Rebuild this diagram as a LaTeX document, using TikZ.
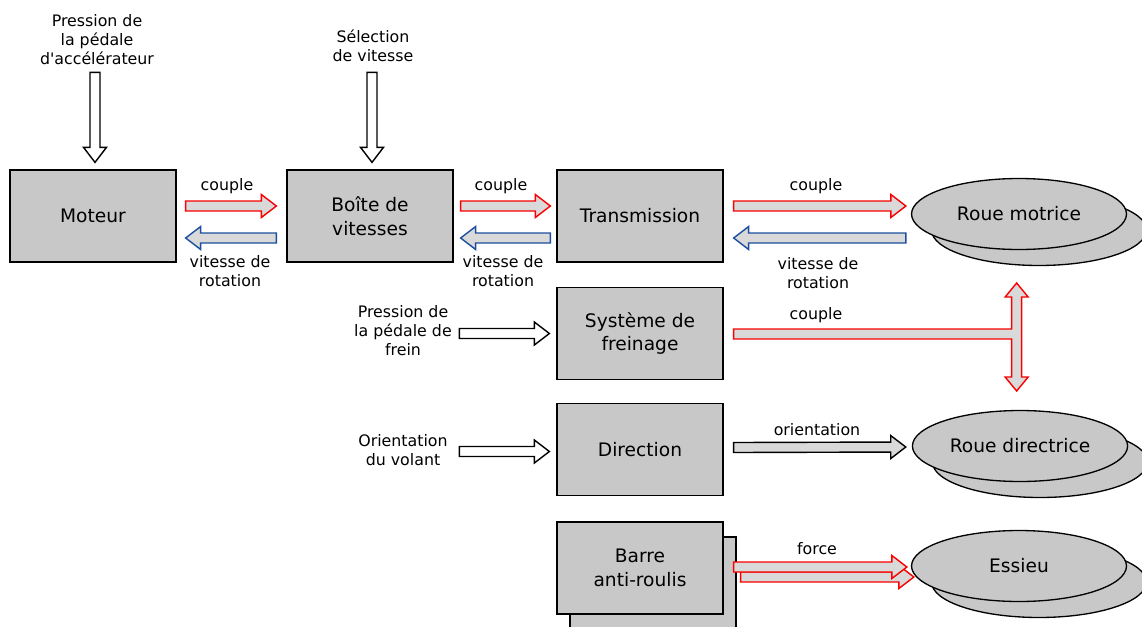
\documentclass[tikz,border=0pt]{standalone}
\usepackage{fontspec}
\setmainfont{DejaVu Sans}
\usetikzlibrary{calc,shapes.geometric,shadows}

\definecolor{boxgray}{RGB}{200,200,200}
\definecolor{arrowgray}{RGB}{217,217,217}
\definecolor{arrowred}{RGB}{250,0,0}
\definecolor{arrowblue}{RGB}{28,78,160}

\tikzset{
  block/.style={draw=black, fill=boxgray, line width=0.75pt, minimum width=3.32cm,
    minimum height=1.84cm, align=center, font=\fontsize{10.6}{13.6}\selectfont},
  wheel/.style={ellipse, draw=black, fill=boxgray, line width=0.75pt, minimum width=4.3cm,
    minimum height=1.42cm, font=\fontsize{10.6}{13.6}\selectfont,
    copy shadow={shadow xshift=0.4cm, shadow yshift=-0.32cm, draw=black, fill=boxgray}},
  lbl/.style={align=center, font=\fontsize{9}{10.8}\selectfont, inner sep=0pt},
  couplearrow/.style={draw=arrowred, fill=arrowgray, line width=0.8pt},
  speedarrow/.style={draw=arrowblue, fill=arrowgray, line width=0.8pt},
  inarrow/.style={draw=black, fill=white, line width=0.8pt},
  outarrow/.style={draw=black, fill=arrowgray, line width=0.8pt}
}

% block arrow: style, start, end
\newcommand{\blockarrow}[3]{%
  \coordinate (ba-s) at #2;
  \coordinate (ba-e) at #3;
  \coordinate (ba-h) at ($(ba-e)!0.3cm!(ba-s)$);
  \filldraw[#1] ($(ba-s)!0.1cm!90:(ba-e)$) -- ($(ba-h)!0.1cm!90:(ba-e)$)
    -- ($(ba-h)!0.23cm!90:(ba-e)$) -- (ba-e) -- ($(ba-h)!0.23cm!-90:(ba-e)$)
    -- ($(ba-h)!0.1cm!-90:(ba-e)$) -- ($(ba-s)!0.1cm!-90:(ba-e)$) -- cycle;
}

\begin{document}
\begin{tikzpicture}[x=0.02cm,y=-0.02cm]
\useasboundingbox (0,0) rectangle (1142,626);

\node[block] (moteur) at (93,216) {Moteur};
\node[block] (boite) at (370,216) {Boîte de\\vitesses};
\node[block] (trans) at (640,216) {Transmission};
\node[block] (frein) at (640,333.5) {Système de\\freinage};
\node[block] (direction) at (640,449.5) {Direction};
\node[block, copy shadow={shadow xshift=0.26cm, shadow yshift=-0.3cm, draw=black, fill=boxgray}]
  (barre) at (640,568) {Barre\\anti-roulis};

\node[wheel] (motrice) at (1019,214) {Roue motrice};
\node[wheel] (directrice) at (1020,446) {Roue directrice};
\node[wheel] (essieu) at (1019,566) {Essieu};

\node[lbl] (accel) at (97,40) {Pression de\\la pédale\\d\textquotesingle accélérateur};
\node[lbl] (selection) at (373,46) {Sélection\\de vitesse};
\node[lbl] (pfrein) at (403,331) {Pression de\\la pédale de\\frein};
\node[lbl] (volant) at (403,450) {Orientation\\du volant};

\node[lbl] (c1) at (227,186) {couple};
\node[lbl] (r1) at (230,271) {vitesse de\\rotation};
\node[lbl] (c2) at (501,186) {couple};
\node[lbl] (r2) at (503,271) {vitesse de\\rotation};
\node[lbl] (c3) at (816,186) {couple};
\node[lbl] (r3) at (818,273) {vitesse de\\rotation};
\node[lbl] (c4) at (816,315) {couple};
\node[lbl] (orient) at (817,430) {orientation};
\node[lbl] (force) at (817,549) {force};

\blockarrow{inarrow}{($(moteur.north)+(2,-97)$)}{($(moteur.north)+(2,-7)$)}
\blockarrow{inarrow}{($(boite.north)+(2,-97)$)}{($(boite.north)+(2,-7)$)}
\blockarrow{inarrow}{($(frein.west)+(-97,0)$)}{($(frein.west)+(-7,0)$)}
\blockarrow{inarrow}{($(direction.west)+(-97,2)$)}{($(direction.west)+(-7,2)$)}

\blockarrow{couplearrow}{($(moteur.east)+(9,-10)$)}{($(boite.west)+(-10,-10)$)}
\blockarrow{speedarrow}{($(boite.west)+(-10,22)$)}{($(moteur.east)+(9,22)$)}
\blockarrow{couplearrow}{($(boite.east)+(7,-10)$)}{($(trans.west)+(-6,-10)$)}
\blockarrow{speedarrow}{($(trans.west)+(-6,22)$)}{($(boite.east)+(7,22)$)}
\blockarrow{couplearrow}{($(trans.east)+(10,-10)$)}{($(motrice.west)+(-5,-8)$)}
\blockarrow{speedarrow}{($(motrice.west)+(-5,24)$)}{($(trans.east)+(10,22)$)}

\coordinate (tj) at ($(frein.east)+(293,0.5)$);
\begin{scope}[shift={(tj)}]
\filldraw[couplearrow] (-283,-5) -- (-5,-5) -- (-5,-37) -- (-11.5,-37) -- (0,-51)
  -- (11.5,-37) -- (5,-37) -- (5,43) -- (11.5,43) -- (0,57) -- (-11.5,43)
  -- (-5,43) -- (-5,5) -- (-283,5) -- cycle;
\end{scope}

\blockarrow{outarrow}{($(direction.east)+(10,-2)$)}{($(directrice.west)+(-6,1)$)}

\blockarrow{couplearrow}{($(barre.east)+(17,9)$)}{($(essieu.west)+(3,11)$)}
\blockarrow{couplearrow}{($(barre.east)+(10,-1)$)}{($(essieu.west)+(-4,1)$)}
\end{tikzpicture}
\end{document}
